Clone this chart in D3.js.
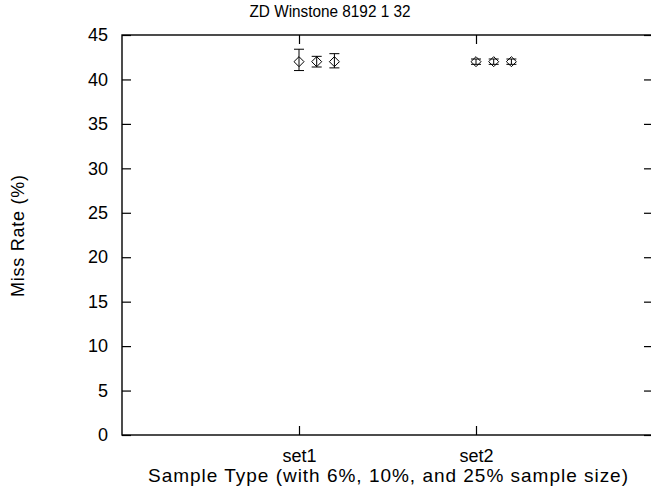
<!DOCTYPE html>
<html lang="en">
<head>
    <title>ZD Winstone 8192 1 32</title>
    <script src="https://d3js.org/d3.v7.min.js"></script>
    <style>
        body { margin: 0; background: white; }
        svg text { font-family: "Liberation Sans", Arial, sans-serif; fill: black; }
    </style>
</head>
<body>
    <div id="chart"></div>

    <script>
        // data
        var categories = ["set1", "set2"];
        var sampleSizes = ["6%", "10%", "25%"];
        var set1Values = [42.0, 42.0, 42.0];
        var set1Low = [41.0, 41.4, 41.3];
        var set1High = [43.4, 42.6, 42.9];
        var set2Values = [42.0, 42.0, 42.0];
        var set2Low = [41.7, 41.7, 41.7];
        var set2High = [42.3, 42.3, 42.3];
        var yTicks = [0, 5, 10, 15, 20, 25, 30, 35, 40, 45];

        var width = 651;
        var height = 491;
        var margins = { left: 122, top: 35, right: -2, bottom: 56 };

        var svg = d3.select("#chart").append("svg")
            .attr("width", width)
            .attr("height", height);

        var xscale = d3.scaleLinear()
            .domain([0, 3])
            .range([margins.left, width - margins.right]);
        var yscale = d3.scaleLinear()
            .domain([0, 45])
            .range([height - margins.bottom, margins.top]);

        var x0 = xscale.range()[0], x1 = xscale.range()[1];
        var y0 = yscale.range()[0], y1 = yscale.range()[1];

        // frame
        svg.append("rect")
            .attr("x", x0).attr("y", y1)
            .attr("width", x1 - x0).attr("height", y0 - y1)
            .attr("fill", "none").attr("stroke", "black").attr("stroke-width", 1.4);

        // y axis (left labels, ticks inward on both sides)
        var yaxis = d3.axisLeft(yscale).tickValues(yTicks).tickSize(-9).tickPadding(14);
        var gy = svg.append("g").attr("transform", "translate(" + x0 + ",0)").call(yaxis);
        gy.select(".domain").remove();
        gy.selectAll("line").attr("stroke-width", 1.2);
        gy.selectAll("text").attr("font-size", 18).attr("font-family", "Liberation Sans, Arial, sans-serif");

        var yaxisR = d3.axisRight(yscale).tickValues(yTicks).tickSize(-9).tickFormat("");
        var gyr = svg.append("g").attr("transform", "translate(" + x1 + ",0)").call(yaxisR);
        gyr.select(".domain").remove();
        gyr.selectAll("line").attr("stroke-width", 1.2);

        // x axis
        var xaxis = d3.axisBottom(xscale).tickValues([1, 2])
            .tickFormat(function (d) { return categories[d - 1]; })
            .tickSize(-9).tickPadding(14);
        var gx = svg.append("g").attr("transform", "translate(0," + y0 + ")").call(xaxis);
        gx.select(".domain").remove();
        gx.selectAll("line").attr("stroke-width", 1.2);
        gx.selectAll("text").attr("font-size", 18).attr("font-family", "Liberation Sans, Arial, sans-serif");

        var xaxisT = d3.axisTop(xscale).tickValues([1, 2]).tickSize(-9).tickFormat("");
        var gxt = svg.append("g").attr("transform", "translate(0," + y1 + ")").call(xaxisT);
        gxt.select(".domain").remove();
        gxt.selectAll("line").attr("stroke-width", 1.2);

        // points with error bars
        var points = [];
        [[set1Values, set1Low, set1High], [set2Values, set2Low, set2High]].forEach(function (s, ci) {
            s[0].forEach(function (v, i) {
                points.push({ x: ci + 1 + i * 0.1, v: v, lo: s[1][i], hi: s[2][i], size: sampleSizes[i] });
            });
        });

        var cap = 5;
        var g = svg.append("g");
        g.selectAll(".err").data(points).enter().append("line")
            .attr("x1", function (d) { return xscale(d.x); })
            .attr("x2", function (d) { return xscale(d.x); })
            .attr("y1", function (d) { return yscale(d.lo); })
            .attr("y2", function (d) { return yscale(d.hi); })
            .attr("stroke", "black").attr("stroke-width", 1);
        g.selectAll(".capHi").data(points).enter().append("line")
            .attr("x1", function (d) { return xscale(d.x) - cap; })
            .attr("x2", function (d) { return xscale(d.x) + cap; })
            .attr("y1", function (d) { return yscale(d.hi); })
            .attr("y2", function (d) { return yscale(d.hi); })
            .attr("stroke", "black").attr("stroke-width", 1);
        g.selectAll(".capLo").data(points).enter().append("line")
            .attr("x1", function (d) { return xscale(d.x) - cap; })
            .attr("x2", function (d) { return xscale(d.x) + cap; })
            .attr("y1", function (d) { return yscale(d.lo); })
            .attr("y2", function (d) { return yscale(d.lo); })
            .attr("stroke", "black").attr("stroke-width", 1);
        g.selectAll(".pt").data(points).enter().append("path")
            .attr("d", d3.symbol().type(d3.symbolDiamond2).size(64))
            .attr("transform", function (d) { return "translate(" + xscale(d.x) + "," + yscale(d.v) + ")"; })
            .attr("fill", "none").attr("stroke", "black").attr("stroke-width", 1);

        // titles
        svg.append("text")
            .attr("x", 330).attr("y", 17)
            .attr("text-anchor", "middle").attr("font-size", 17)
            .attr("textLength", 161).attr("lengthAdjust", "spacingAndGlyphs")
            .text("ZD Winstone 8192 1 32");
        svg.append("text")
            .attr("x", 388).attr("y", 482)
            .attr("text-anchor", "middle").attr("font-size", 19)
            .attr("textLength", 480).attr("lengthAdjust", "spacing")
            .text("Sample Type (with 6%, 10%, and 25% sample size)");
        svg.append("text")
            .attr("transform", "translate(24,236) rotate(-90)")
            .attr("text-anchor", "middle").attr("font-size", 18)
            .attr("textLength", 122).attr("lengthAdjust", "spacing")
            .text("Miss Rate (%)");
    </script>
</body>
</html>
